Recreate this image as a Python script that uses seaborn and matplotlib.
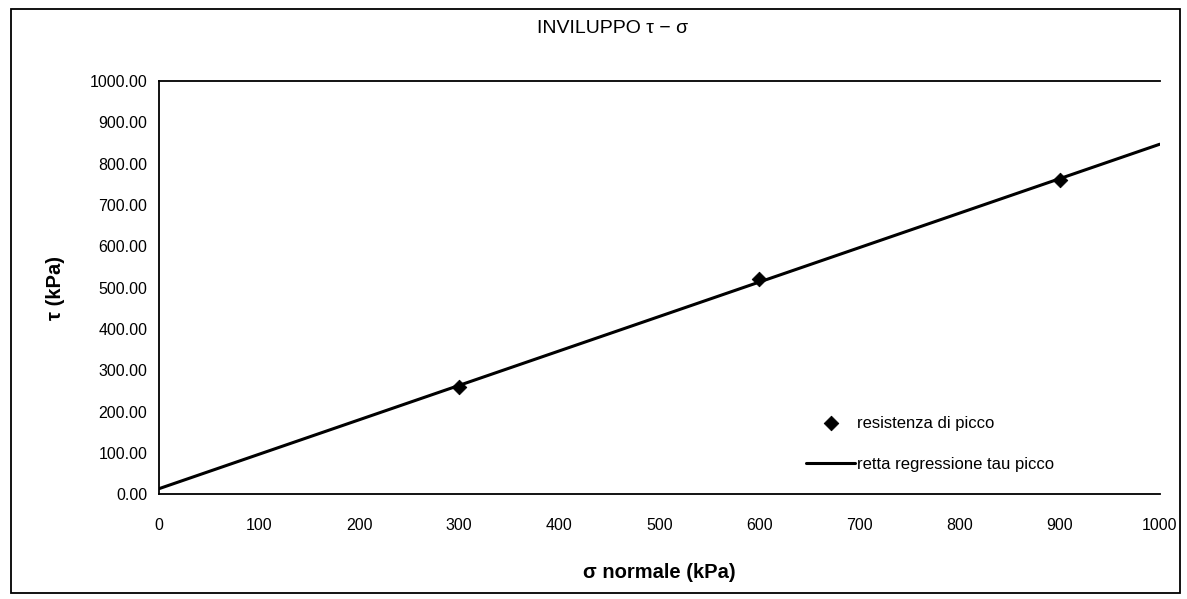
import numpy as np
import pandas as pd
import matplotlib
matplotlib.use('Agg')
import matplotlib.pyplot as plt
import seaborn as sns

# dati
sigma = [300, 600, 900]            # tensione normale (kPa)
tau = [260, 520, 760]              # resistenza di picco (kPa)
x_ticks = [0, 100, 200, 300, 400, 500, 600, 700, 800, 900, 1000]
y_ticks = [0, 100, 200, 300, 400, 500, 600, 700, 800, 900, 1000]

sns.set_theme(style='white')
plt.rcParams['font.family'] = ['Liberation Sans', 'DejaVu Sans']
plt.rcParams['text.color'] = 'black'
plt.rcParams['axes.labelcolor'] = 'black'

df = pd.DataFrame({'sigma': sigma, 'tau': tau})
# retta di regressione sui punti di picco
slope, intercept = np.polyfit(df['sigma'], df['tau'], 1)
x_line = np.array([x_ticks[0], x_ticks[-1]])
reg = pd.DataFrame({'sigma': x_line, 'tau': slope * x_line + intercept})

fig = plt.figure(figsize=(11.87, 5.99), dpi=100)
ax = fig.add_axes([0.134, 0.175, 0.843, 0.69])

sns.lineplot(data=reg, x='sigma', y='tau', ax=ax, color='black', linewidth=2.2,
             label='retta regressione tau picco', zorder=2)
sns.scatterplot(data=df, x='sigma', y='tau', ax=ax, marker='D', s=55, color='black',
                edgecolor='black', label='resistenza di picco', zorder=3)

ax.set_xlim(x_ticks[0], x_ticks[-1])
ax.set_ylim(y_ticks[0], y_ticks[-1])
ax.set_xticks(x_ticks)
ax.set_yticks(y_ticks)
ax.set_yticklabels([f'{v:.2f}' for v in y_ticks])
ax.tick_params(axis='both', direction='inout', length=7, width=1, labelsize=11.5,
               colors='black', pad=5)
ax.tick_params(axis='x', pad=14)
for s in ['left', 'bottom', 'top']:
    ax.spines[s].set_color('black')
    ax.spines[s].set_linewidth(1.3)
ax.spines['right'].set_visible(False)

ax.set_xlabel('σ normale (kPa)', fontsize=14.5, fontweight='bold', labelpad=21)
ax.set_ylabel('τ (kPa)', fontsize=14.5, fontweight='bold', labelpad=18)

h, l = ax.get_legend_handles_labels()
ax.legend(h[::-1], l[::-1], loc='upper left', bbox_to_anchor=(0.647, 0.19),
          frameon=False, fontsize=12, handlelength=2.9, handletextpad=0.15,
          labelspacing=1.6, borderpad=0, borderaxespad=0)

fig.text(0.516, 0.953, 'INVILUPPO τ − σ', ha='center', va='center', fontsize=14)

# cornice esterna
fig.patches.append(plt.Rectangle((0.009, 0.01), 0.985, 0.975, transform=fig.transFigure,
                                 fill=False, edgecolor='black', linewidth=1.3))

fig.savefig('out.png', dpi=100)
